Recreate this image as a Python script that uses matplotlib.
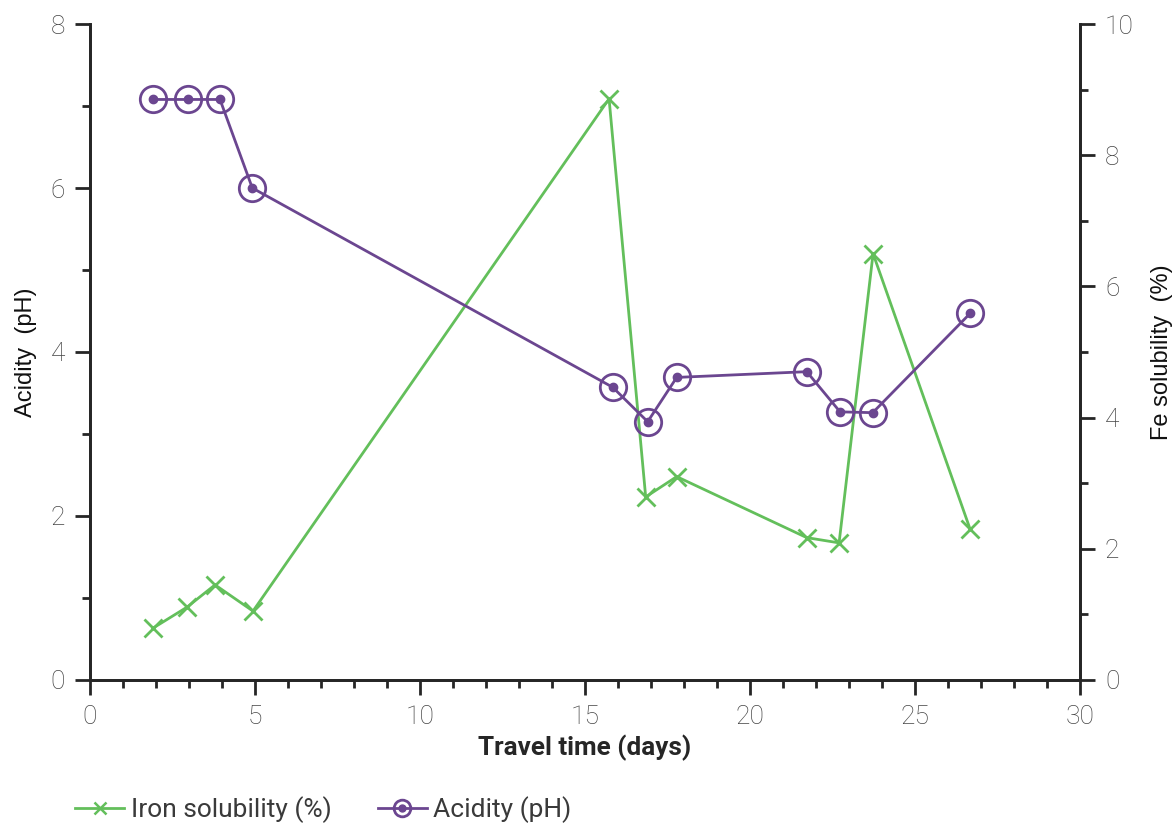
import numpy as np
import matplotlib.pyplot as plt
from matplotlib.ticker import MultipleLocator
from matplotlib.lines import Line2D

plt.rcParams['font.family'] = ['Roboto', 'DejaVu Sans']

# travel time (days)
days_fe = [1.91, 2.94, 3.79, 4.94, 15.73, 16.84, 17.78, 21.72, 22.70, 23.73, 26.67]
fe_sol = [0.79, 1.11, 1.45, 1.05, 8.86, 2.79, 3.10, 2.17, 2.09, 6.50, 2.30]

days_ph = [1.92, 2.96, 3.94, 4.92, 15.84, 16.90, 17.78, 21.72, 22.73, 23.72, 26.67]
ph = [7.08, 7.08, 7.08, 6.00, 3.57, 3.15, 3.69, 3.76, 3.27, 3.26, 4.47]

green = '#63bf5b'
purple = '#6b4690'
dark = '#262626'
tickc = '#444444'

fig = plt.figure(figsize=(11.73, 8.23), dpi=100)
ax = fig.add_axes([0.0767, 0.1738, 0.844, 0.797])
ax2 = ax.twinx()

# iron solubility on the right axis
ax2.plot(days_fe, fe_sol, color=green, lw=2, marker='x',
         markersize=13, markeredgewidth=2, zorder=2)

# acidity on the left axis, ring + dot markers
ax.plot(days_ph, ph, color=purple, lw=2, marker='o', markersize=19,
        markerfacecolor='none', markeredgewidth=2)
ax.plot(days_ph, ph, ls='none', marker='o', markersize=6, color=purple)
ax.set_zorder(ax2.get_zorder() + 1)
ax.patch.set_visible(False)

ax.set_xlim(0, 30)
ax.set_ylim(0, 8)
ax2.set_ylim(0, 10)
ax.xaxis.set_major_locator(MultipleLocator(5))
ax.xaxis.set_minor_locator(MultipleLocator(1))
ax.yaxis.set_major_locator(MultipleLocator(2))
ax.yaxis.set_minor_locator(MultipleLocator(1))
ax2.yaxis.set_major_locator(MultipleLocator(2))
ax2.yaxis.set_minor_locator(MultipleLocator(1))

for a in (ax, ax2):
    for s in a.spines.values():
        s.set_linewidth(2)
        s.set_color(dark)
    a.spines['top'].set_visible(False)
    a.tick_params(which='major', length=11, width=2, color=dark,
                  labelsize=19, labelcolor=tickc, pad=7)
    a.tick_params(which='minor', length=6, width=2, color=dark)
    for lab in a.get_xticklabels() + a.get_yticklabels():
        lab.set_fontweight('light')

ax.set_xlabel('Travel time (days)', fontsize=18.8, fontweight='bold',
              color=dark, labelpad=4)
ax.set_ylabel('Acidity  (pH)', fontsize=17, color='#111111', labelpad=10,
              family='Liberation Sans')
ax2.set_ylabel('Fe solubility  (%)', fontsize=17, color='#111111',
               labelpad=12, family='Liberation Sans')

# legend handles, smaller markers than in the plot
h1 = Line2D([], [], color=green, lw=2, marker='x', markersize=9,
            markeredgewidth=1.8)
h2 = Line2D([], [], color=purple, lw=2, marker='o', markersize=12,
            markerfacecolor='none', markeredgewidth=2)
h3 = Line2D([], [], ls='none', marker='o', markersize=5, color=purple)
leg = fig.legend([h1, (h2, h3)], ['Iron solubility (%)', 'Acidity (pH)'],
                 loc='center left', bbox_to_anchor=(0.044, 0.016), ncol=2,
                 frameon=False, fontsize=19, handlelength=1.85,
                 columnspacing=1.75, handletextpad=0.25)
for t in leg.get_texts():
    t.set_color('#3a3a3a')

fig.savefig('out.png', dpi=100)
